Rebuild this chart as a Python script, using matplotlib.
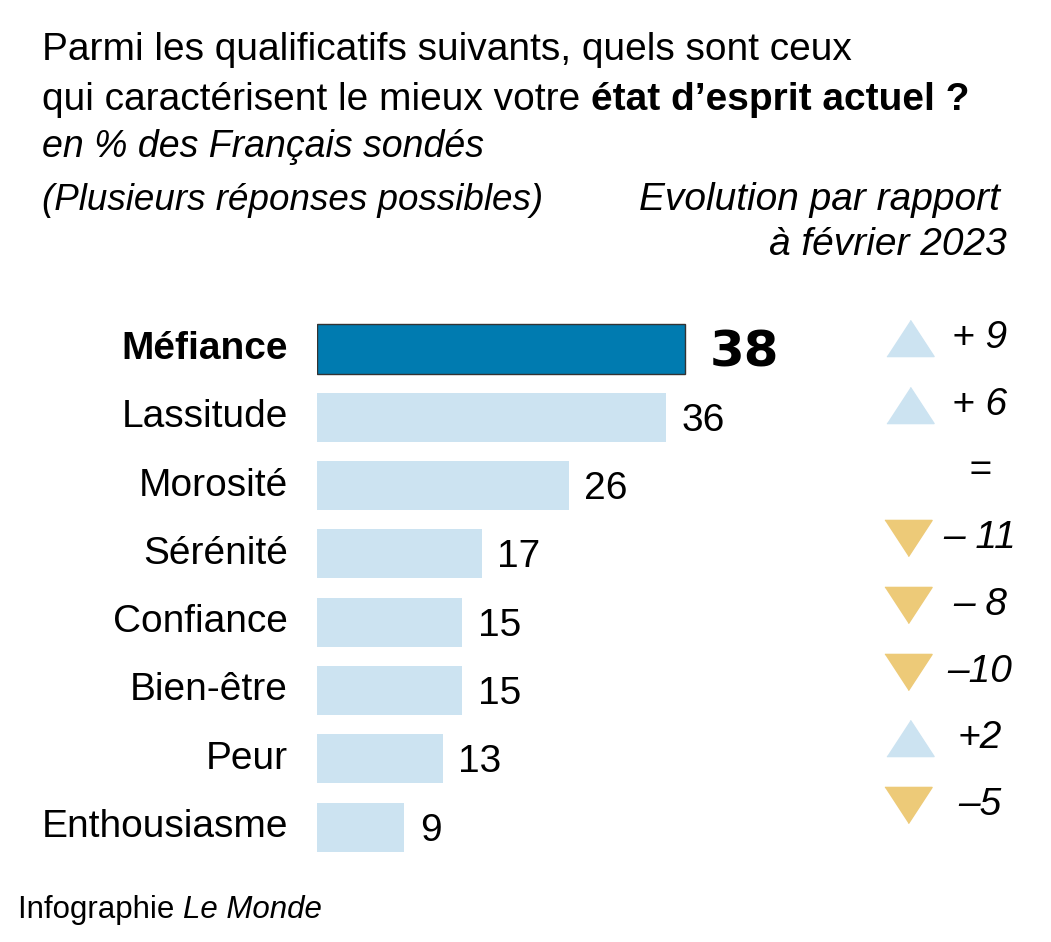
import numpy as np
import matplotlib.pyplot as plt

plt.rcParams['font.family'] = ['Liberation Sans', 'DejaVu Sans']

# data
categories = ["Méfiance", "Lassitude", "Morosité", "Sérénité", "Confiance",
              "Bien-être", "Peur", "Enthousiasme"]
values = [38, 36, 26, 17, 15, 15, 13, 9]
changes = [9, 6, 0, -11, -8, -10, 2, -5]
change_labels = ["+ 9", "+ 6", "=", "– 11", "– 8", "–10", "+2", "–5"]

dark_blue = "#007bb0"
light_blue = "#cce3f1"
gold = "#edca78"
FS = 28

W, H = 1051, 942
fig = plt.figure(figsize=(W / 100, H / 100), dpi=100)

def fx(px):
    return px / W

def fy(py):
    return 1 - py / H

# main bar axes: value 0 at x=317px
px_per_unit = 368 / 38
ax_left, ax_right = 317, 860
row0, step = 349, 68.3
ax_top = row0 - step / 2
ax_bot = row0 + 7 * step + step / 2
ax = fig.add_axes([fx(ax_left), fy(ax_bot), fx(ax_right - ax_left), (ax_bot - ax_top) / H])
ax.set_xlim(0, (ax_right - ax_left) / px_per_unit)
ax.set_ylim(len(categories) - 0.5, -0.5)
ax.axis("off")

y = np.arange(len(categories))
colors = [dark_blue] + [light_blue] * (len(categories) - 1)
edges = ["#333333"] + ["none"] * (len(categories) - 1)
ax.barh(y, values, height=0.72, color=colors, edgecolor=edges, linewidth=1)

for i, (cat, v) in enumerate(zip(categories, values)):
    ax.text(-3.0, i, cat, ha="right", va="center", fontsize=FS,
            fontweight="bold" if i == 0 else "normal")
    if i == 0:
        ax.text(v + 2.5, i + 0.05, str(v), ha="left", va="center", fontsize=36,
                fontweight="black", family=["DejaVu Sans"])
    else:
        ax.text(v + 1.6, i + 0.05, str(v), ha="left", va="center", fontsize=FS)

# change column axes
c_left, c_right = 860, 1051
c_row0, c_step = 338, 66.7
c_top = c_row0 - c_step / 2
c_bot = c_row0 + 7 * c_step + c_step / 2
cax = fig.add_axes([fx(c_left), fy(c_bot), fx(c_right - c_left), (c_bot - c_top) / H])
cax.set_xlim(0, c_right - c_left)
cax.set_ylim(len(categories) - 0.5, -0.5)
cax.axis("off")

up = [(-1, -0.766), (1, -0.766), (0, 0.766)]
down = [(-1, 0.766), (1, 0.766), (0, -0.766)]
for i, (c, lab) in enumerate(zip(changes, change_labels)):
    if c > 0:
        cax.plot(50, i, marker=up, markersize=34, color=light_blue, linestyle="none")
    elif c < 0:
        cax.plot(48, i, marker=down, markersize=34, color=gold, linestyle="none")
    cax.text(120, i, lab, ha="center", va="center", fontsize=FS, style="italic")

# titles
t1 = fig.text(fx(42), fy(50), "Parmi les qualificatifs suivants, quels sont ceux",
              fontsize=FS, va="center")
t2 = fig.text(fx(42), fy(100), "qui caractérisent le mieux votre ", fontsize=FS, va="center")
ax.annotate("état d’esprit actuel ?", xy=(1, 0), xycoords=t2, va="bottom",
            fontsize=FS, fontweight="bold")
fig.text(fx(42), fy(147), "en % des Français sondés", fontsize=27, va="center", style="italic")
fig.text(fx(42), fy(200), "(Plusieurs réponses possibles)", fontsize=26.5, va="center",
         style="italic")
fig.text(fx(1000), fy(200), "Evolution par rapport", fontsize=FS, va="center",
         ha="right", style="italic")
fig.text(fx(1007), fy(245), "à février 2023", fontsize=FS, va="center",
         ha="right", style="italic")

# footer
f1 = fig.text(fx(18), fy(910), "Infographie ", fontsize=22.5, va="center")
ax.annotate("Le Monde", xy=(1, 0), xycoords=f1, va="bottom", fontsize=22.5, style="italic")

fig.savefig("out.png", dpi=100)
